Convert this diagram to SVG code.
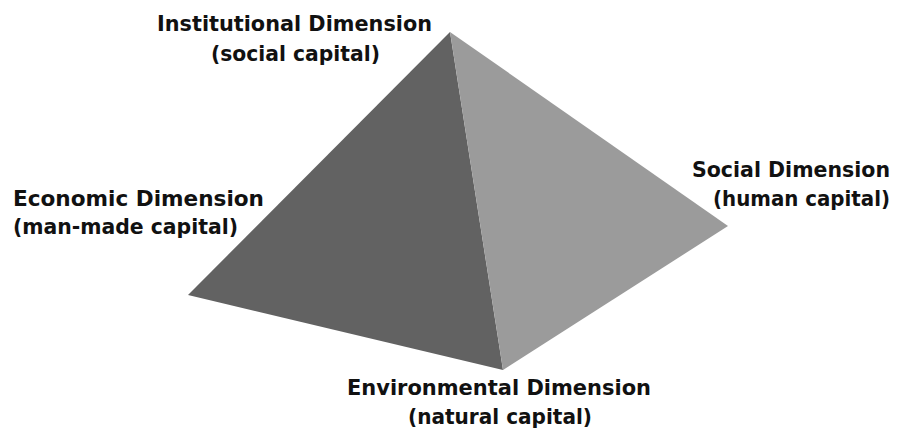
<svg xmlns="http://www.w3.org/2000/svg" width="899" height="432" viewBox="0 0 899 432">
  <style>
    .lbl { font-family: "DejaVu Sans", Verdana, sans-serif; font-weight: bold; font-size: 22px; fill: #111; }
    .end { text-anchor: end; }
  </style>
  <rect width="899" height="432" fill="#ffffff"/>
  <!-- pyramid faces -->
  <g id="pyramid">
    <polygon id="face-left" points="450,32 188,295 503,370" fill="#626262"/>
    <polygon id="face-right" points="450,32 503,370 728,226" fill="#9b9b9b"/>
  </g>
  <!-- corner labels -->
  <g id="institutional">
    <text class="lbl" x="157" y="31" textLength="275" lengthAdjust="spacingAndGlyphs">Institutional Dimension</text>
    <text class="lbl" x="211" y="61" textLength="169" lengthAdjust="spacingAndGlyphs">(social capital)</text>
  </g>
  <g id="economic">
    <text class="lbl" x="13" y="206" textLength="251" lengthAdjust="spacingAndGlyphs">Economic Dimension</text>
    <text class="lbl" x="13" y="234" textLength="225" lengthAdjust="spacingAndGlyphs">(man-made capital)</text>
  </g>
  <g id="social">
    <text class="lbl end" x="890" y="177" style="font-size:21px" textLength="198" lengthAdjust="spacingAndGlyphs">Social Dimension</text>
    <text class="lbl end" x="890" y="206" style="font-size:21px" textLength="177" lengthAdjust="spacingAndGlyphs">(human capital)</text>
  </g>
  <g id="environmental">
    <text class="lbl" x="347" y="395" textLength="304" lengthAdjust="spacingAndGlyphs">Environmental Dimension</text>
    <text class="lbl" x="408" y="424" textLength="184" lengthAdjust="spacingAndGlyphs">(natural capital)</text>
  </g>
</svg>
